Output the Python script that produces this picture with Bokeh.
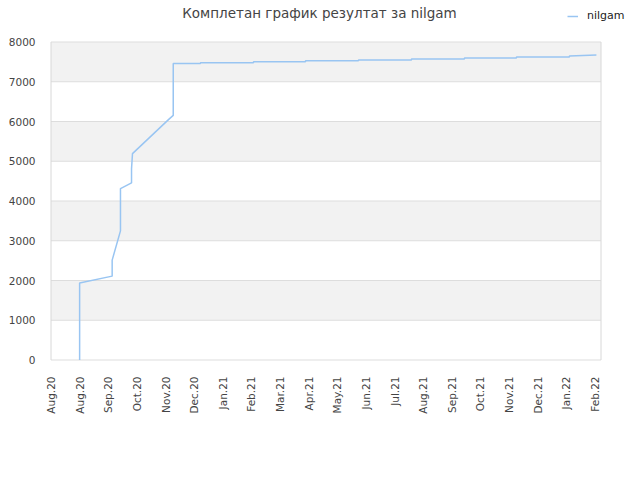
from bokeh.plotting import figure
from bokeh.models import Range1d, FixedTicker, Legend, LegendItem, Label
from bokeh.embed import file_html
from bokeh.resources import INLINE
import math

# Days counted from 2020-08-01; ticks every 30 days
tick_days = [0, 30, 60, 90, 120, 150, 180, 210, 240, 270, 300, 330, 360, 390, 420, 450, 480, 510, 540, 570]
tick_labels = ["Aug.20", "Aug.20", "Sep.20", "Oct.20", "Nov.20", "Dec.20", "Jan.21", "Feb.21",
               "Mar.21", "Apr.21", "May.21", "Jun.21", "Jul.21", "Aug.21", "Sep.21", "Oct.21",
               "Nov.21", "Dec.21", "Jan.22", "Feb.22"]
y_ticks = [0, 1000, 2000, 3000, 4000, 5000, 6000, 7000, 8000]
x_start, x_end = 0, 576.4      # plotted period (days)
y_start, y_end = 0, 8000       # plotted score range

title_text = "Комплетан график резултат за nilgam"
series_name = "nilgam"
day = [30, 30, 64.1, 64.1, 72.8, 72.8, 84.4, 84.4, 85.4, 123.4, 128.1, 128.1,
       156.6, 156.6, 212.2, 212.2, 266.7, 266.7, 322.2, 322.2, 377.8, 377.8,
       433.3, 433.3, 487.8, 487.8, 543.3, 543.3, 571.6]
score = [0, 1935, 2110, 2512, 3248, 4313, 4454, 4815, 5192, 6054, 6154, 7460,
         7460, 7480, 7480, 7505, 7505, 7530, 7530, 7550, 7550, 7575,
         7575, 7600, 7600, 7620, 7620, 7645, 7670]

# layout (pixels)
W, H = 632, 472
left, right, top, bottom = 49, 0, 4, 111
plot_w, plot_h = 550.0, 318.0      # pixel size of the plotted area
pad = 1.5                          # pixels between frame edge and plotted area (left/bottom)
kx = plot_w / (x_end - x_start)
ky = plot_h / (y_end - y_start)
frame_w = W - left - right
frame_h = H - top - bottom
xr0 = x_start - pad / kx
yr0 = y_start - pad / ky

p = figure(width=W, height=H, output_backend="svg", toolbar_location=None,
           x_range=Range1d(xr0, xr0 + frame_w / kx), y_range=Range1d(yr0, yr0 + frame_h / ky),
           min_border_left=left, min_border_right=right, min_border_top=top,
           min_border_bottom=bottom)

# alternating bands and grid lines, limited to the plotted area
band_bottom = y_ticks[1:-1:2]
band_top = y_ticks[2::2]
p.quad(left=x_start, right=x_end, bottom=band_bottom, top=band_top,
       fill_color="#f2f2f2", line_color=None)
p.segment(x0=x_start, x1=x_end, y0=y_ticks, y1=y_ticks, line_color="#dddddd", line_width=1)
p.segment(x0=[x_start, x_end], x1=[x_start, x_end], y0=y_start, y1=y_end,
          line_color="#d8d8d8", line_width=1)

line_color = "#99c5f2"
r = p.line(day, score, line_color=line_color, line_width=1.5)

p.xaxis.ticker = FixedTicker(ticks=tick_days)
p.xaxis.major_label_overrides = {t: l for t, l in zip(tick_days, tick_labels)}
p.xaxis.major_label_orientation = math.pi / 2
p.yaxis.ticker = FixedTicker(ticks=y_ticks)

for ax in (p.xaxis[0], p.yaxis[0]):
    ax.axis_line_color = None
    ax.major_tick_line_color = None
    ax.minor_tick_line_color = None
    ax.major_label_text_font = "DejaVu Sans"
    ax.major_label_text_font_size = "10.5px"
    ax.major_label_text_color = "#444444"
p.xaxis.major_label_standoff = 9
p.yaxis.major_label_standoff = 8

p.xgrid.grid_line_color = None
p.ygrid.grid_line_color = None
p.outline_line_color = None
p.background_fill_color = "white"
p.border_fill_color = "white"

title = Label(x=270, y=349, x_units="screen", y_units="screen", text=title_text,
              text_align="center", text_baseline="middle", text_font="DejaVu Sans",
              text_font_size="13.5px", text_color="#444444")
p.add_layout(title)

legend = Legend(items=[LegendItem(label=series_name, renderers=[r])], location=(518, 339),
                padding=0, margin=0, glyph_width=11, glyph_height=12, label_height=12,
                label_standoff=9, border_line_alpha=0, background_fill_alpha=0,
                label_text_font="DejaVu Sans", label_text_font_size="11px",
                label_text_color="#222222")
p.add_layout(legend, "center")

open("out.html", "w").write(file_html(p, INLINE))
